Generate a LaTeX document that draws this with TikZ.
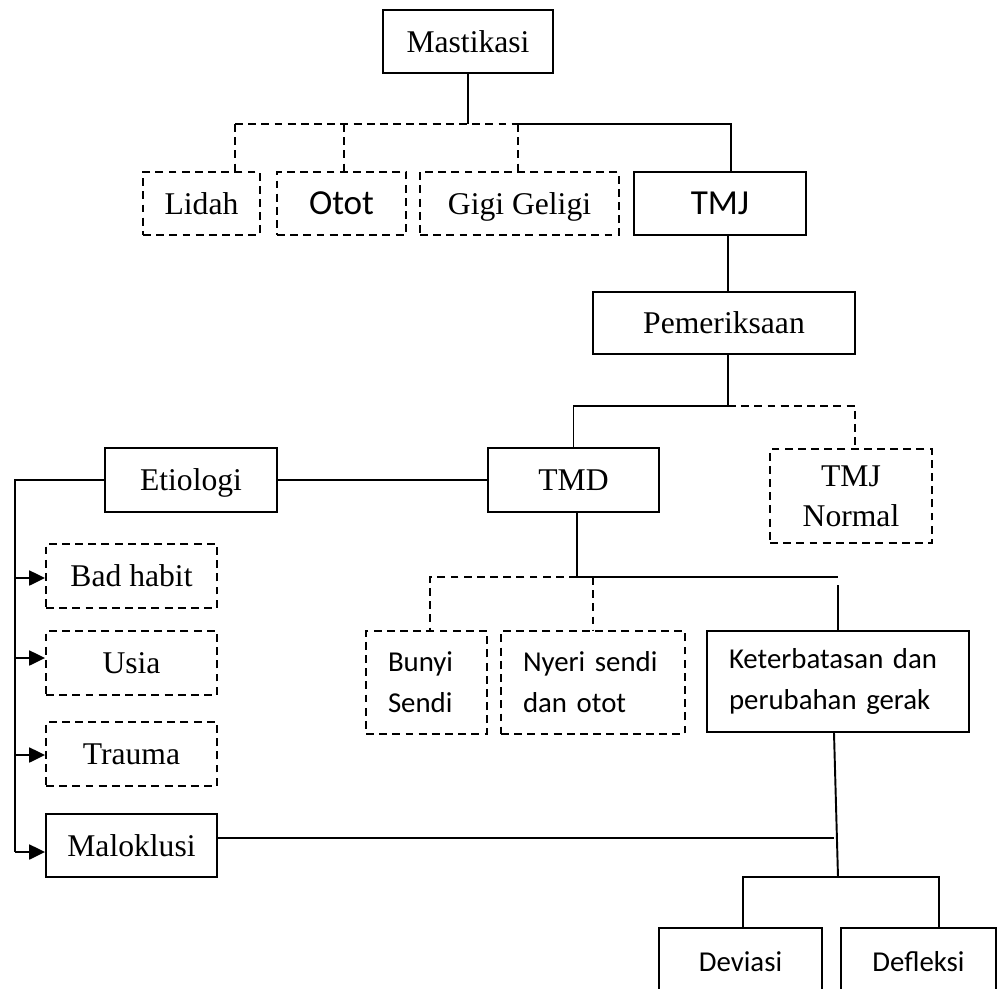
\documentclass[tikz,border=0pt]{standalone}
\usepackage{fontspec}
\setmainfont{Liberation Serif}
\newfontfamily\calibri{Carlito}
\usetikzlibrary{arrows.meta}

\begin{document}
\begin{tikzpicture}[x=0.02cm,y=-0.02cm,
  box/.style={draw,line width=1.1pt,inner sep=0pt,align=center,
    font=\fontsize{18}{22.8}\selectfont},
  dbox/.style={box,dash pattern=on 4.5pt off 3pt},
  sans/.style={font=\calibri\fontsize{20}{24}\selectfont},
  ssans/.style={font=\calibri\fontsize{16.4}{23.3}\selectfont},
  lbox/.style={ssans,align=left,inner xsep=0.44cm},
  nodepth/.style={text depth=0pt},
  conn/.style={line width=1.1pt},
  dconn/.style={conn,dash pattern=on 4.5pt off 3pt},
  arr/.style={conn,-{Triangle[length=9pt,width=8.5pt]}}]
\useasboundingbox (0,0) rectangle (997,988);

% Top level and its four parts
\node[box,minimum width=3.4cm,minimum height=1.26cm] (mastikasi) at (468,41.5) {Mastikasi};
\node[dbox,minimum width=2.34cm,minimum height=1.26cm] (lidah) at (201.5,203.5) {Lidah};
\node[dbox,sans,minimum width=2.58cm,minimum height=1.26cm] (otot) at (341.5,203.5) {Otot};
\node[dbox,nodepth,minimum width=3.98cm,minimum height=1.26cm] (gigi) at (519.5,203.5) {Gigi Geligi};
\node[box,sans,minimum width=3.44cm,minimum height=1.26cm] (tmj) at (720,203.5) {TMJ};

% Examination
\node[box,minimum width=5.24cm,minimum height=1.24cm] (pemeriksaan) at (724,323) {Pemeriksaan};
\node[box,minimum width=3.42cm,minimum height=1.28cm] (tmd) at (573.5,480) {TMD};
\node[dbox,minimum width=3.24cm,minimum height=1.88cm] (tmjnormal) at (851,496) {TMJ\\Normal};

% Etiology column
\node[box,nodepth,minimum width=3.44cm,minimum height=1.28cm] (etiologi) at (191,480) {Etiologi};
\node[dbox,minimum width=3.42cm,minimum height=1.28cm] (badhabit) at (131.5,576) {Bad habit};
\node[dbox,minimum width=3.42cm,minimum height=1.28cm] (usia) at (131.5,663) {Usia};
\node[dbox,minimum width=3.42cm,minimum height=1.28cm] (trauma) at (131.5,754) {Trauma};
\node[box,minimum width=3.42cm,minimum height=1.26cm] (maloklusi) at (131.5,845.5) {Maloklusi};

% Symptoms
\node[dbox,lbox,text width=1.54cm,minimum width=2.42cm,minimum height=2.06cm] (bunyi) at (426.5,682.5) {Bunyi\\Sendi};
\node[dbox,lbox,text width=2.8cm,minimum width=3.68cm,minimum height=2.06cm] (nyeri) at (593,682.5) {Nyeri sendi\\dan otot};
\node[box,lbox,text width=4.36cm,minimum width=5.24cm,minimum height=2.02cm] (keterbatasan) at (838,681.5) {Keterbatasan dan\\perubahan gerak};
\node[box,ssans,minimum width=3.26cm,minimum height=1.34cm] (deviasi) at (740.5,961.5) {Deviasi};
\node[box,ssans,minimum width=3.1cm,minimum height=1.34cm] (defleksi) at (918.5,961.5) {Defleksi};

% Junction points
\coordinate (ta) at (235,124);
\coordinate (tb) at (344,124);
\coordinate (tc) at (518,124);
\coordinate (td) at (731,124);
\coordinate (pa) at (728,406);
\coordinate (pb) at (855,406);
\coordinate (da) at (430,577);
\coordinate (db) at (577,577);
\coordinate (dc) at (593,577);
\coordinate (dd) at (838,577);
\coordinate (sa) at (15,578);
\coordinate (sb) at (15,658);
\coordinate (sc) at (15,755);
\coordinate (sd) at (15,852);
\coordinate (mk) at (834,838);
\coordinate (ka) at (743,877);
\coordinate (kb) at (838,877);
\coordinate (kc) at (939,877);

% Mastikasi branches
\draw[conn] (mastikasi) -- (mastikasi |- ta);
\draw[dconn] (ta) -- (tc);
\draw[conn] (tc) -- (td) -- (td |- tmj.north);
\draw[dconn] (ta) -- (ta |- lidah.north);
\draw[dconn] (tb) -- (tb |- otot.north);
\draw[dconn] (tc) -- (tc |- gigi.north);

% TMJ to TMD / TMJ Normal
\draw[conn] (pa |- tmj.south) -- (pa |- pemeriksaan.north);
\draw[conn] (pa |- pemeriksaan.south) -- (pa) -- (pa -| tmd) -- (tmd);
\draw[dconn] (pa) -- (pb) -- (pb |- tmjnormal.north);

% Etiology
\draw[conn] (etiologi) -- (tmd);
\draw[conn] (etiologi.west) -- (etiologi.west -| sa) -- (sd);
\draw[arr] (sa) -- (sa -| badhabit.west);
\draw[arr] (sb) -- (sb -| usia.west);
\draw[arr] (sc) -- (sc -| trauma.west);
\draw[arr] (sd) -- (sd -| maloklusi.west);
\draw[conn] (mk -| maloklusi.east) -- (mk);

% TMD symptoms
\draw[conn] (tmd.south -| db) -- (db) -- (dd);
\draw[dconn] (db) -- (da) -- (da |- bunyi.north);
\draw[dconn] (dc) -- (dc |- nyeri.north);
\draw[conn] ([yshift=-0.16cm]dd) -- (dd |- keterbatasan.north);

% Movement
\draw[conn] (keterbatasan.south -| mk) -- (kb);
\draw[conn] (ka |- deviasi.north) -- (ka) -- (kc) -- (kc |- defleksi.north);
\end{tikzpicture}
\end{document}
